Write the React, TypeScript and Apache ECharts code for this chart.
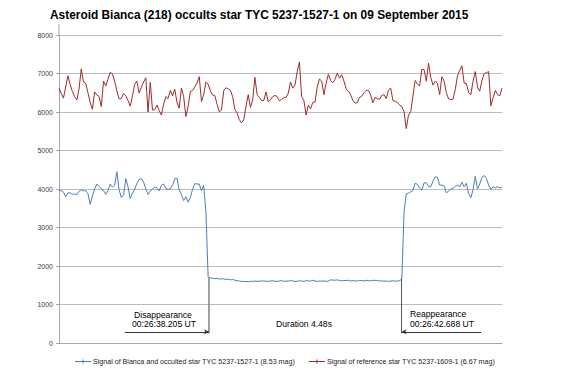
import React, { useEffect, useRef } from 'react';
import * as echarts from 'echarts';

const TITLE = 'Asteroid Bianca (218) occults star TYC 5237-1527-1 on 09 September 2015';
const BLUE_NAME = 'Signal of Bianca and occulted star TYC 5237-1527-1 (8.53 mag)';
const RED_NAME = 'Signal of reference star TYC 5237-1609-1 (6.67 mag)';

const Y_MIN = 0;
const Y_MAX = 8000;
const Y_INTERVAL = 1000;

// Reference star signal, one value per frame
const RED_SIGNAL = [
  6620, 6480, 6360, 6650, 6940, 6720, 6530, 6400, 6310, 6600,
  7120, 6780, 6750, 6500, 6250, 6070, 6520, 6440, 6400, 6140,
  6800, 6680, 6850, 7030, 6990, 6800, 6550, 6340, 6350, 6480,
  6420, 6300, 6150, 6420, 6720, 6800, 6490, 6650, 6780, 6890,
  6000, 6770, 6050, 6060, 6180, 6040, 5920, 6200, 6400, 6350,
  6560, 6420, 6590, 6250, 6100, 6620, 6400, 5880, 6140, 6530,
  6560, 6650, 6750, 6920, 6270, 6450, 6780, 6720, 6550, 6440,
  6430, 6200, 6010, 6050, 6550, 6630, 6600, 6560, 6400, 6060,
  5980, 5800, 5720, 5800, 6150, 6450, 6120, 6310, 6900, 6450,
  6380, 6300, 6300, 6520, 6260, 6320, 6400, 6430, 6400, 6290,
  6330, 6370, 6380, 6490, 6780, 6620, 6700, 7050, 7300, 6400,
  6300, 5920, 6180, 6080, 6250, 6260, 6650, 6860, 6800, 6450,
  6750, 6980, 6820, 6760, 6850, 7010, 6880, 6970, 6800, 6600,
  6540, 6450, 6300, 6230, 6240, 6380, 6410, 6500, 6560, 6570,
  6440, 6240, 6380, 6350, 6330, 6430, 6450, 6350, 6570, 6620,
  6300, 6280, 6250, 6180, 6140, 6010, 5570, 5920, 6010, 6420,
  6820, 6720, 6680, 7110, 7100, 6800, 7270, 6900, 6700, 6800,
  6750, 6450, 6920, 6800, 6500, 6340, 6320, 6330, 6580, 6940,
  7080, 7200, 6750, 6740, 6500, 6450, 6800, 7050, 6650, 6540,
  6820, 7000, 7020, 7050, 6160, 6370, 6560, 6450, 6420, 6620,
];

// Target star + asteroid: before the occultation
const BLUE_BEFORE = [
  3950, 3960, 3920, 3800, 3900, 3900, 3860, 3870, 3850, 3940,
  3980, 3950, 3960, 3880, 3600, 3820, 4000, 4130, 4070, 4000,
  3960, 3860, 3960, 4130, 4050, 4100, 4450, 3980, 3780, 3850,
  4270, 4060, 3750, 3890, 3990, 4150, 4250, 4270, 4180, 4000,
  3860, 3950, 3990, 4050, 4030, 3950, 4100, 4130, 4020, 3990,
  4000, 4100, 4270, 4280, 3970, 3860, 3700, 3800, 3660, 3780,
  3990, 4140, 4130, 4130, 3950, 4100, 3400,
];

// during the occultation
const BLUE_DURING = [
  1710, 1690, 1680, 1670, 1680, 1660, 1670, 1665, 1650, 1660,
  1640, 1650, 1630, 1620, 1610, 1600, 1595, 1600, 1590, 1605,
  1600, 1610, 1605, 1600, 1615, 1610, 1605, 1600, 1610, 1615,
  1605, 1600, 1610, 1620, 1600, 1610, 1605, 1625, 1610, 1600,
  1605, 1615, 1610, 1600, 1620, 1615, 1605, 1630, 1610, 1600,
  1610, 1605, 1615, 1600, 1610, 1640, 1635, 1630, 1640, 1620,
  1615, 1625, 1620, 1630, 1610, 1620, 1615, 1610, 1625, 1620,
  1610, 1630, 1620, 1615, 1630, 1625, 1620, 1610, 1615, 1605,
  1610, 1600, 1610, 1615, 1605, 1610, 1620, 1660,
];

// after the occultation
const BLUE_AFTER = [
  3400, 3870, 3890, 3930, 3960, 4150, 4120, 4020, 3970, 4160,
  4160, 4070, 4060, 4200, 4320, 4300, 4100, 4100, 4080, 3900,
  3940, 4000, 4020, 4070, 4100, 4060, 4180, 4060, 4150, 3880,
  3770, 3980, 4330, 4000, 4130, 4300, 4350, 4270, 4100, 3990,
  4060, 4030, 4060, 4030, 4050,
];

// Event markers, in frame units
const DISAPPEAR_FRAME = 67.4;
const REAPPEAR_FRAME = 153.9;
const DISAPPEAR_ARROW_FROM = 29.6;
const REAPPEAR_ARROW_FROM = 189.6;
const MARKER_TOP_DISAPPEAR = 1690;
const MARKER_TOP_REAPPEAR = 1680;
const MARKER_BOTTOM = 255;
const ARROW_LEVEL = 290;

const DISAPPEAR_LABEL = ['Disappearance', '00:26:38.205 UT'];
const REAPPEAR_LABEL = ['Reappearance', '00:26:42.688 UT'];
const DURATION_LABEL = 'Duration 4.48s';

const BLUE = '#4a7ebb';
const RED = '#9e2b2b';
const FONT = '"Liberation Sans", Arial, sans-serif';

export default function App() {
  const ref = useRef<HTMLDivElement>(null);

  useEffect(() => {
    if (!ref.current) return;
    const chart = echarts.init(ref.current, undefined, { renderer: 'svg' });
    const blue = [...BLUE_BEFORE, ...BLUE_DURING, ...BLUE_AFTER];
    const blueData = blue.map((v, i) => [i, v]);
    const redData = RED_SIGNAL.map((v, i) => [i, v]);
    const n = Math.max(blue.length, RED_SIGNAL.length);

    const txt = (text: string, x: number, y: number, align: string) => ({
      type: 'text',
      x,
      y,
      silent: true,
      style: {
        text,
        font: `8.6px ${FONT}`,
        fill: '#000',
        align,
        textAlign: align,
        verticalAlign: 'middle',
        textVerticalAlign: 'middle',
      },
    });

    chart.setOption({
      animation: false,
      backgroundColor: '#fff',
      title: {
        text: TITLE,
        left: 50,
        top: 9,
        padding: 0,
        textStyle: { fontSize: 11.9, fontWeight: 'bold', fontFamily: FONT, color: '#000' },
      },
      legend: {
        left: 75,
        top: 358,
        padding: 0,
        itemWidth: 16,
        itemHeight: 6,
        itemGap: 14,
        textStyle: { fontSize: 7.1, fontFamily: FONT, color: '#222', padding: [0, 0, 0, -3] },
        data: [
          { name: BLUE_NAME, icon: 'path://M0,2.5h16v1h-16z M7.5,1h1v4h-1z' },
          { name: RED_NAME, icon: 'path://M0,2.5h16v1h-16z M7.5,1h1v4h-1z' },
        ],
      },
      grid: { left: 59, right: 65, top: 35, bottom: 35 },
      xAxis: {
        type: 'value',
        min: 0,
        max: n - 1,
        axisLine: { show: true, lineStyle: { color: '#a6a6a6', width: 1 } },
        axisTick: { show: false },
        axisLabel: { show: false },
        splitLine: { show: false },
      },
      yAxis: {
        type: 'value',
        min: Y_MIN,
        max: Y_MAX,
        interval: Y_INTERVAL,
        axisLine: { show: true, lineStyle: { color: '#a6a6a6', width: 1 } },
        axisTick: { show: true, length: 3, lineStyle: { color: '#a6a6a6' } },
        axisLabel: {
          fontSize: 7,
          fontFamily: FONT,
          color: '#404040',
          margin: 6,
          formatter: (v: number) => String(v),
        },
        splitLine: { show: true, lineStyle: { color: '#bdbdbd', width: 1 } },
      },
      graphic: [
        {
          type: 'line',
          silent: true,
          shape: { x1: 59, y1: 24, x2: 59, y2: 35 },
          style: { stroke: '#a6a6a6', lineWidth: 1 },
        },
        txt(DISAPPEAR_LABEL[0], 163, 315, 'center'),
        txt(DISAPPEAR_LABEL[1], 164, 323.5, 'center'),
        txt(DURATION_LABEL, 304, 323.5, 'center'),
        txt(REAPPEAR_LABEL[0], 410, 314, 'left'),
        txt(REAPPEAR_LABEL[1], 410, 323.5, 'left'),
      ],
      series: [
        {
          name: BLUE_NAME,
          type: 'line',
          data: blueData,
          symbol: 'none',
          lineStyle: { color: BLUE, width: 1 },
          itemStyle: { color: BLUE },
          z: 3,
          markLine: {
            silent: true,
            animation: false,
            label: { show: false },
            symbol: ['none', 'none'],
            lineStyle: { color: '#808080', width: 1.5, type: 'solid' },
            data: [
              [
                { coord: [DISAPPEAR_FRAME, MARKER_TOP_DISAPPEAR] },
                { coord: [DISAPPEAR_FRAME, MARKER_BOTTOM] },
              ],
              [
                { coord: [REAPPEAR_FRAME, MARKER_TOP_REAPPEAR], lineStyle: { color: '#555', width: 1 } },
                { coord: [REAPPEAR_FRAME, MARKER_BOTTOM] },
              ],
              [
                { coord: [DISAPPEAR_ARROW_FROM, ARROW_LEVEL], symbol: 'none', lineStyle: { color: '#333', width: 1 } },
                { coord: [DISAPPEAR_FRAME, ARROW_LEVEL], symbol: 'arrow', symbolSize: [4, 5] },
              ],
              [
                { coord: [REAPPEAR_ARROW_FROM, ARROW_LEVEL], symbol: 'none', lineStyle: { color: '#333', width: 1 } },
                { coord: [REAPPEAR_FRAME, ARROW_LEVEL], symbol: 'arrow', symbolSize: [4, 5] },
              ],
            ],
          },
        },
        {
          name: RED_NAME,
          type: 'line',
          data: redData,
          symbol: 'none',
          lineStyle: { color: RED, width: 1 },
          itemStyle: { color: RED },
          z: 2,
        },
      ],
    });

    return () => chart.dispose();
  }, []);

  return (
    <div
      ref={ref}
      style={{ position: 'fixed', left: 0, top: 0, width: 567, height: 378, background: '#fff' }}
    />
  );
}
